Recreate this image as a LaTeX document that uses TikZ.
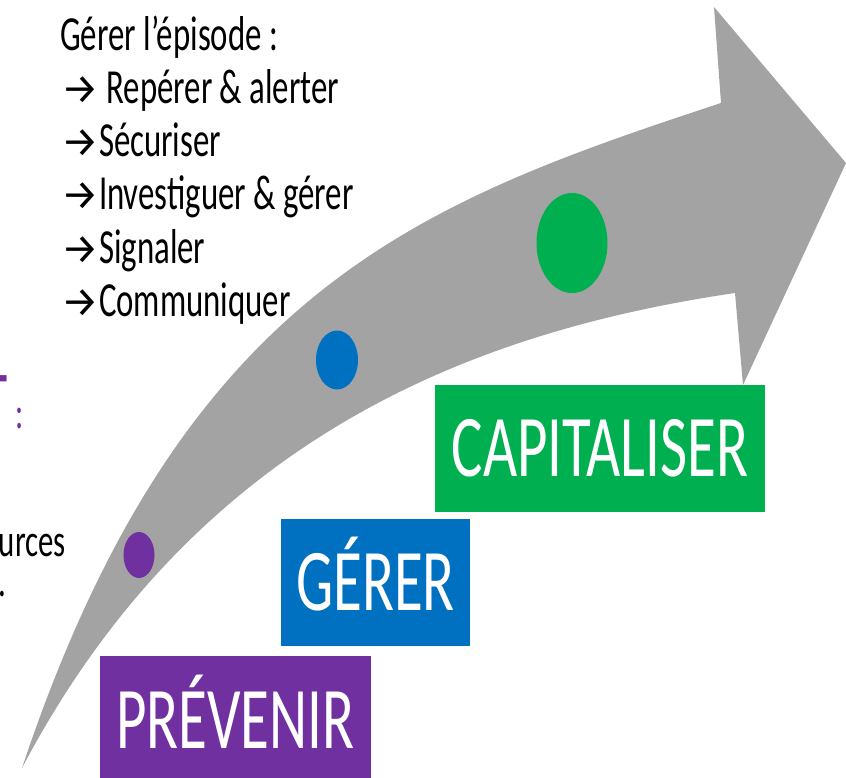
\documentclass[tikz,border=0pt]{standalone}
\usepackage{fontspec}
\usetikzlibrary{shapes.geometric}
\setmainfont{Carlito}
\newfontfamily\bodyfont[FakeStretch=0.67]{Carlito}
\newfontfamily\boxfont[FakeStretch=0.67]{Carlito}
\newfontfamily\arrfont{Fira Sans}
\definecolor{cpurple}{HTML}{7030A0}
\definecolor{cblue}{HTML}{0070C0}
\definecolor{cgreen}{HTML}{00B050}
\definecolor{cgray}{HTML}{A3A3A3}
\newcommand{\ar}{{\arrfont\fontsize{42}{42}\selectfont →}}
\begin{document}
\begin{tikzpicture}[x=1pt,y=-1pt,
  stagebox/.style={rectangle, inner sep=0pt, outer sep=0pt, text=white,
    font=\boxfont\fontsize{88}{90}\selectfont, text height=55.6pt, text depth=0pt},
  bodyline/.style={anchor=base west, inner sep=0pt, font=\bodyfont\fontsize{49}{52}\selectfont},
  stagedot/.style={ellipse, inner sep=0pt, draw=none}
]
\useasboundingbox (0,0) rectangle (846,778);
\clip (0,0) rectangle (846,778);

% curved arrow
\fill[cgray] (22,768) .. controls (182,288) and (421,202) .. (721,103)
  -- (714,7) -- (846,163) -- (743,385) -- (735,293)
  .. controls (485,330) and (200,430) .. (22,768) -- cycle;

% dots
\node[stagedot, fill=cpurple, minimum width=31pt, minimum height=46pt] (d1) at (139,555) {};
\node[stagedot, fill=cblue, minimum width=42pt, minimum height=59pt] (d2) at (337,360) {};
\node[stagedot, fill=cgreen, minimum width=71pt, minimum height=100pt] (d3) at (572,243) {};

% stage boxes
\node[stagebox, fill=cgreen, minimum width=330pt, minimum height=127pt] (cap) at (600,448.5) {CAPITALISER};
\node[stagebox, fill=cblue, minimum width=189pt, minimum height=127pt] (ger) at (375.5,582.5) {GÉRER};
\node[stagebox, fill=cpurple, minimum width=271pt, minimum height=130pt] (prev) at (235.5,721) {PRÉVENIR};

% list text
\node[bodyline] (t0) at (60,51) {Gérer l’épisode :};
\node[bodyline] (t1) at (61,104) {\ar\ Repérer \& alerter};
\node[bodyline] (t2) at (61,157) {\ar Sécuriser};
\node[bodyline] (t3) at (61,210) {\ar Investiguer \& gérer};
\node[bodyline] (t4) at (61,263) {\ar Signaler};
\node[bodyline] (t5) at (61,316) {\ar Communiquer};

% clipped text on the left edge
\node[anchor=base east, inner sep=0pt, text=cpurple, font=\bodyfont\bfseries\fontsize{60}{60}\selectfont] (pt) at (7.5,414) {T};
\node[anchor=base, inner sep=0pt, text=cpurple, font=\bodyfont\fontsize{46}{50}\selectfont] (pc) at (20,428) {:};
\node[anchor=base east, inner sep=0pt, font=\bodyfont\fontsize{46}{50}\selectfont] (ur) at (66,556) {urces};
\node[anchor=base, inner sep=0pt, font=\bodyfont\fontsize{46}{50}\selectfont] (pd) at (2,596) {.};
\end{tikzpicture}
\end{document}
